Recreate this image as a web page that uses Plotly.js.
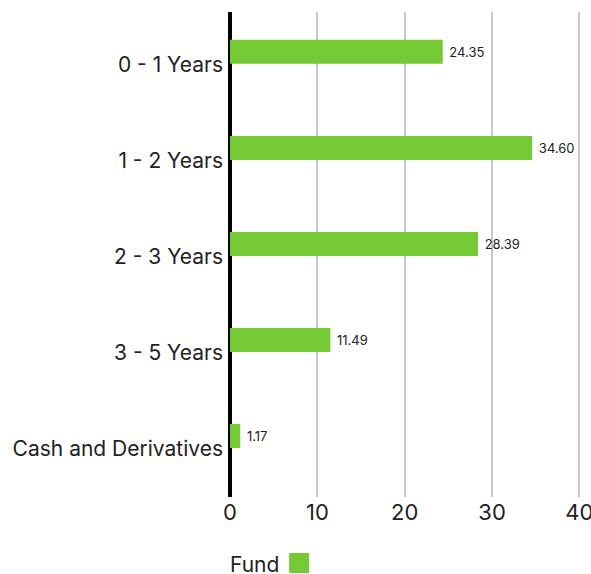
<!DOCTYPE html>
<html>
<head>
<meta charset="utf-8">
<script src="https://cdn.plot.ly/plotly-3.0.1.min.js"></script>
<style>html,body{margin:0;padding:0;background:#fff;}#chart{width:591px;height:574px;}</style>
</head>
<body>
<div id="chart"></div>
<script>
const categories = ["0 - 1 Years", "1 - 2 Years", "2 - 3 Years", "3 - 5 Years", "Cash and Derivatives"];
const fundValues = [24.35, 34.60, 28.39, 11.49, 1.17];
const xTicks = [0, 10, 20, 30, 40];
const seriesName = "Fund";
const green = "#74c934";
const fontFam = "Inter, sans-serif";

const trace = {
  type: "bar",
  orientation: "h",
  name: seriesName,
  y: categories,
  x: fundValues,
  width: 0.25,
  offset: -0.26,
  marker: {color: green},
  text: fundValues.map(v => "\u00a0" + v.toFixed(2)),
  textposition: "outside",
  cliponaxis: false,
  textfont: {family: fontFam, size: 13, color: "#222"},
  hoverinfo: "skip"
};

const layout = {
  width: 591, height: 574,
  margin: {l: 230, r: 9, t: 12, b: 77},
  paper_bgcolor: "#fff", plot_bgcolor: "#fff",
  showlegend: false,
  font: {family: fontFam, size: 21, color: "#222"},
  xaxis: {
    range: [0, 40.3], tickvals: xTicks, ticktext: xTicks.map(String),
    showgrid: true, gridcolor: "#c8c8c8", gridwidth: 2,
    zeroline: true, zerolinecolor: "#000", zerolinewidth: 4,
    showline: false, ticks: "", fixedrange: true,
    ticklabelstandoff: 0, ticklabeloverflow: "allow",
    tickfont: {family: fontFam, size: 22, color: "#222"}
  },
  yaxis: {
    type: "category", range: [4.5, -0.55],
    showgrid: false, zeroline: false, showline: false, ticks: "",
    ticklabelstandoff: 6,
    tickfont: {family: fontFam, size: 21, color: "#222"}
  },
  annotations: [{
    xref: "paper", yref: "paper", x: 0, y: 0, xanchor: "left", yanchor: "middle",
    yshift: -67, xshift: -2, text: seriesName, showarrow: false,
    font: {family: fontFam, size: 21, color: "#222"}
  }],
  shapes: [{
    type: "rect", xref: "paper", yref: "paper",
    xsizemode: "pixel", ysizemode: "pixel",
    xanchor: 0.168, yanchor: 0,
    x0: 0, x1: 20, y0: -56, y1: -76,
    fillcolor: green, line: {width: 0}
  }]
};

Plotly.newPlot("chart", [trace], layout, {displayModeBar: false, staticPlot: true});
</script>
</body>
</html>
